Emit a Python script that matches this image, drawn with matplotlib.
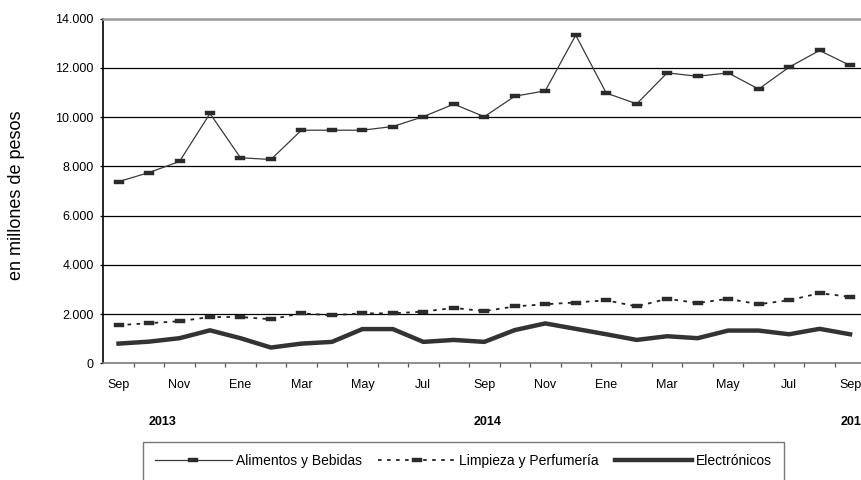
import matplotlib
matplotlib.use("Agg")
import matplotlib.pyplot as plt
from matplotlib.path import Path
from matplotlib.ticker import FixedLocator, FuncFormatter
import matplotlib.transforms as mtransforms
import numpy as np

plt.rcParams['font.family'] = ['Liberation Sans', 'DejaVu Sans']

months = ["Sep", "Oct", "Nov", "Dic", "Ene", "Feb", "Mar", "Abr", "May", "Jun", "Jul", "Ago",
          "Sep", "Oct", "Nov", "Dic", "Ene", "Feb", "Mar", "Abr", "May", "Jun", "Jul", "Ago", "Sep"]
years = ["2013", "2014", "2015"]

alimentos = [7380, 7750, 8200, 10150, 8350, 8280, 9470, 9470, 9470, 9620, 10020, 10530,
             10020, 10850, 11070, 13330, 10980, 10540, 11800, 11660, 11800, 11140, 12030, 12710, 12100]
limpieza = [1550, 1630, 1710, 1880, 1880, 1790, 2030, 1950, 2030, 2030, 2100, 2250,
            2120, 2310, 2400, 2470, 2560, 2310, 2620, 2450, 2620, 2400, 2560, 2850, 2700]
electronicos = [800, 880, 1020, 1340, 1020, 640, 800, 870, 1390, 1390, 870, 950,
                870, 1350, 1620, 1400, 1180, 950, 1100, 1020, 1330, 1330, 1180, 1400, 1180]

W, H = 861, 480
fig = plt.figure(figsize=(W / 100, H / 100), dpi=100)
left, right, top, bottom = 103.3, 865.3, 18.7, 363.3
ax = fig.add_axes([left / W, 1 - bottom / H, (right - left) / W, (bottom - top) / H])

x = np.arange(len(months))
rect = Path([(-1, -0.4), (1, -0.4), (1, 0.4), (-1, 0.4), (-1, -0.4)],
            [Path.MOVETO, Path.LINETO, Path.LINETO, Path.LINETO, Path.CLOSEPOLY])

ax.plot(x, electronicos, color='#333333', lw=3.2, solid_joinstyle='round',
        label='Electrónicos', zorder=3)
ax.plot(x, limpieza, color='#222222', lw=1.3, dashes=(2, 3), marker=rect, markersize=7.5,
        markerfacecolor='#2b2b2b', markeredgecolor='#2b2b2b', markeredgewidth=0.3,
        label='Limpieza y Perfumería', zorder=4)
ax.plot(x, alimentos, color='#3a3a3a', lw=0.9, marker=rect, markersize=7.5,
        markerfacecolor='#2b2b2b', markeredgecolor='#2b2b2b', markeredgewidth=0.3,
        label='Alimentos y Bebidas', zorder=4)

ax.set_xlim(-0.5, len(months) - 0.5)
ax.set_ylim(0, 14000)

ax.set_yticks(np.arange(0, 14001, 2000))
ax.yaxis.set_major_formatter(FuncFormatter(lambda v, p: f"{int(v):,}".replace(",", ".")))
for v in range(2000, 14000, 2000):
    ax.axhline(v, color='black', lw=0.9, zorder=1)

ax.spines['top'].set_color('#9a9a9a')
ax.spines['top'].set_linewidth(1.8)
ax.spines['right'].set_visible(False)
ax.spines['bottom'].set_color('#7a7a7a')
ax.spines['bottom'].set_linewidth(1.2)
ax.spines['left'].set_color('black')
ax.spines['left'].set_linewidth(1.2)

ax.tick_params(axis='y', direction='out', length=2.5, width=0.9, pad=4.5,
               labelsize=9, colors='black')

ax.xaxis.set_major_locator(FixedLocator(np.arange(0.5, len(months) - 0.5, 1)))
ax.xaxis.set_major_formatter(FuncFormatter(lambda v, p: ""))
ax.xaxis.set_minor_locator(FixedLocator(x[::2]))
ax.xaxis.set_minor_formatter(FuncFormatter(lambda v, p: months[int(round(v))]))
ax.tick_params(axis='x', which='major', direction='out', length=3, width=0.9, color='#555555')
ax.tick_params(axis='x', which='minor', length=0, pad=11, labelsize=9)

trans = mtransforms.blended_transform_factory(ax.transData, fig.transFigure)
ypos = 1 - 422 / H
for xv, lab in zip([1.45, 12.1, 24.15], years):
    ax.text(xv, ypos, lab, transform=trans, ha='center', va='center',
            fontsize=9, fontweight='bold')

fig.text(17 / W, 1 - 195 / H, "en millones de pesos", rotation=90, ha='center',
         va='center', fontsize=13)

handles, labels = ax.get_legend_handles_labels()
order = [2, 1, 0]
leg = fig.legend([handles[i] for i in order], [labels[i] for i in order],
                 loc='upper left', bbox_to_anchor=(142.7 / W, 1 - 441.5 / H),
                 ncol=3, frameon=True, fancybox=False, fontsize=10, handlelength=5.5,
                 handletextpad=0.3, columnspacing=1.2, borderpad=0.9, borderaxespad=0)
leg.get_frame().set_edgecolor('#555555')
leg.get_frame().set_linewidth(1.0)

fig.savefig("out.png", dpi=100)
